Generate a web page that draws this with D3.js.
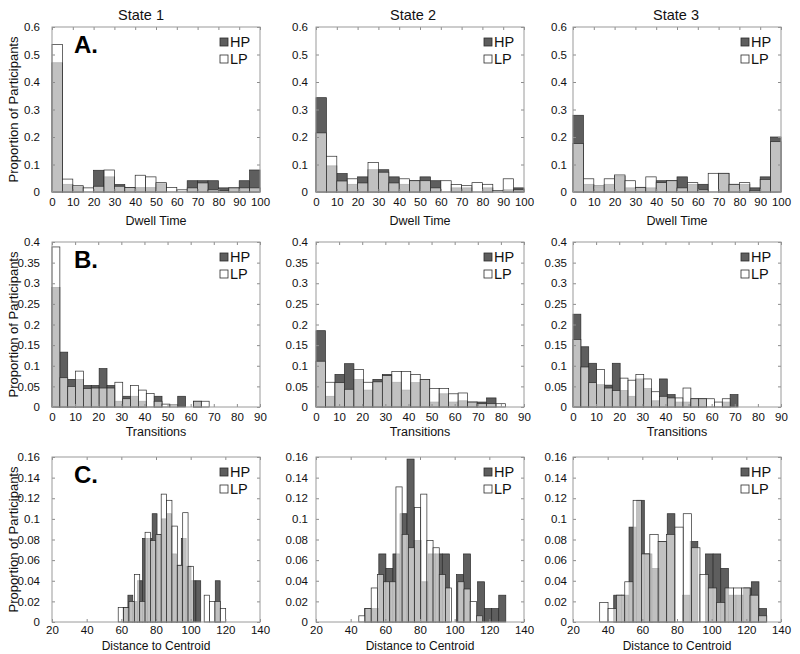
<!doctype html>
<html lang="en">
<head>
<meta charset="utf-8">
<title>HP vs LP - dwell time, transitions, distance to centroid</title>
<script src="https://d3js.org/d3.v7.min.js"></script>
<style>
  body { margin: 0; background: #fff; }
  svg { font-family: "Liberation Sans", Arial, Helvetica, sans-serif; }
  .tick text { font-size: 11.5px; fill: #111; }
  .tick line { stroke: #8c8c8c; }
</style>
</head>
<body>
<div id="chart"></div>
<script>
// titles and labels
var states = ["State 1", "State 2", "State 3"];
var letters = ["A.", "B.", "C."];
var xLabels = ["Dwell Time", "Transitions", "Distance to Centroid"];
var yLabel = "Proportion of Participants";
var series = ["HP", "LP"];

// tick values for each row
var dwellXTicks = [0, 10, 20, 30, 40, 50, 60, 70, 80, 90, 100];
var dwellYTicks = [0, 0.1, 0.2, 0.3, 0.4, 0.5, 0.6];
var transXTicks = [0, 10, 20, 30, 40, 50, 60, 70, 80, 90];
var transYTicks = [0, 0.05, 0.1, 0.15, 0.2, 0.25, 0.3, 0.35, 0.4];
var distXTicks = [20, 40, 60, 80, 100, 120, 140];
var distYTicks = [0, 0.02, 0.04, 0.06, 0.08, 0.1, 0.12, 0.14, 0.16];

// bins as [first edge, bin width], one per state
var dwellHPBins = [[0, 5], [0, 5], [0, 5]];
var dwellLPBins = [[0, 5], [0, 5], [0, 5]];
var transHPBins = [[0, 3.4], [0, 4.1], [0, 3.4]];
var transLPBins = [[0, 3.4], [0, 4.1], [0, 3.4]];
var distHPBins = [[61, 2.8], [48.1, 4.07], [43.5, 4.41]];
var distLPBins = [[58.2, 3.1], [44.7, 3.57], [35.4, 4.82]];

// proportions per bin
var dwellHP = [
  [0.47, 0.028, 0.019, 0, 0.079, 0.055, 0.027, 0.016, 0.016, 0.016, 0.03, 0, 0, 0.041, 0.041, 0.041, 0.015, 0.015, 0.041, 0.08],
  [0.343, 0.095, 0.067, 0.028, 0.055, 0.081, 0.081, 0.055, 0.028, 0.041, 0.055, 0.041, 0, 0.015, 0.015, 0, 0.015, 0, 0.008, 0.015],
  [0.279, 0.028, 0.017, 0.028, 0.058, 0.015, 0.017, 0.015, 0.041, 0.041, 0.055, 0.028, 0.028, 0, 0.068, 0.028, 0.028, 0.015, 0.055, 0.2]
];
var dwellLP = [
  [0.536, 0.047, 0.023, 0.015, 0.021, 0.08, 0.021, 0.016, 0.061, 0.055, 0.034, 0.016, 0.008, 0.015, 0.033, 0.008, 0.005, 0.015, 0.015, 0.015],
  [0.215, 0.13, 0.04, 0.048, 0.033, 0.107, 0.072, 0.033, 0.048, 0.041, 0.041, 0.015, 0.041, 0.027, 0.023, 0.034, 0.028, 0.005, 0.048, 0.008],
  [0.176, 0.048, 0.022, 0.048, 0.062, 0.041, 0.017, 0.055, 0.034, 0.041, 0.015, 0.034, 0.008, 0.068, 0.068, 0.028, 0.034, 0.006, 0.046, 0.183]
];
var transHP = [
  [0.29, 0.133, 0.067, 0.067, 0.052, 0.052, 0.093, 0.052, 0.014, 0.026, 0.026, 0.014, 0, 0.026, 0, 0, 0.026, 0, 0.014, 0],
  [0.185, 0.026, 0.079, 0.105, 0.067, 0.041, 0.067, 0.079, 0.06, 0.041, 0.059, 0.067, 0.012, 0.032, 0.012, 0.015, 0.012, 0.012, 0.022, 0],
  [0.225, 0.146, 0.106, 0.054, 0.053, 0.106, 0.04, 0.026, 0.068, 0.045, 0.015, 0.068, 0.03, 0.012, 0.012, 0.02, 0.02, 0, 0, 0.012, 0.03]
];
var transLP = [
  [0.388, 0.071, 0.05, 0.087, 0.045, 0.046, 0.046, 0.046, 0.06, 0.02, 0.052, 0.041, 0.033, 0.014, 0.007, 0.005, 0, 0, 0.014, 0.014],
  [0.111, 0.06, 0.059, 0.043, 0.091, 0.06, 0.061, 0.076, 0.086, 0.086, 0.079, 0.067, 0.045, 0.045, 0.032, 0.034, 0.012, 0.008, 0.008, 0.008],
  [0.164, 0.097, 0.059, 0.091, 0.046, 0.04, 0.07, 0.065, 0.079, 0.068, 0.037, 0.026, 0.022, 0.022, 0.046, 0.02, 0.02, 0.02, 0.012, 0.02, 0]
];
var distHP = [
  [0.014, 0.026, 0.02, 0.04, 0.081, 0.081, 0.105, 0.085, 0.1, 0.105, 0.066, 0.055, 0.081, 0.054, 0.04, 0.04, 0, 0, 0, 0.04],
  [0.013, 0.013, 0.066, 0.052, 0.066, 0.105, 0.158, 0.079, 0.039, 0.066, 0.066, 0.066, 0, 0.046, 0.066, 0, 0.039, 0.013, 0.013, 0.026],
  [0.026, 0.026, 0.092, 0.118, 0.066, 0.052, 0.078, 0.105, 0, 0.026, 0.078, 0, 0.066, 0.066, 0.052, 0.026, 0.026, 0.033, 0.039, 0.013]
];
var distLP = [
  [0.014, 0.014, 0.02, 0.046, 0.02, 0.087, 0.079, 0.085, 0.124, 0.118, 0.093, 0.055, 0.106, 0.054, 0, 0, 0.026, 0.02, 0.02, 0.013],
  [0.006, 0.013, 0.033, 0.046, 0.039, 0.039, 0.131, 0.085, 0.072, 0.111, 0.124, 0.079, 0.072, 0.046, 0.033, 0, 0.039, 0.032, 0.02, 0.006],
  [0.019, 0.013, 0.026, 0.039, 0.118, 0.066, 0.085, 0.078, 0.085, 0.092, 0.105, 0.072, 0.046, 0.033, 0.019, 0.033, 0.033, 0.033, 0.026, 0.006]
];

var rows = [
  {xTicks: dwellXTicks, yTicks: dwellYTicks, hp: dwellHP, lp: dwellLP, hpBins: dwellHPBins, lpBins: dwellLPBins},
  {xTicks: transXTicks, yTicks: transYTicks, hp: transHP, lp: transLP, hpBins: transHPBins, lpBins: transLPBins},
  {xTicks: distXTicks, yTicks: distYTicks, hp: distHP, lp: distLP, hpBins: distHPBins, lpBins: distLPBins}
];

// layout
var colX = [52, 316, 573];
var rowY = [27, 242, 457];
var plotW = 208, plotH = 165;
var titleX = [141, 413, 676];
var yPad = [12, 8, 6];        // gap between box and y tick labels, per column
var xPad = [6, 6, 4];         // gap between box and x tick labels, per row
var xTitleGap = [33, 29, 28];

var hpFill = "#5e5e5e";
var barStroke = "#2b2b2b";
var boxStroke = "#9a9a9a";

var svg = d3.select("#chart").append("svg")
  .attr("width", 800)
  .attr("height", 654);

var fmt = d3.format("~g");

// turn a value list into bars with edges
function toBins(values, bin) {
  return values.map(function(v, i) {
    return {x0: bin[0] + i * bin[1], x1: bin[0] + (i + 1) * bin[1], v: v};
  }).filter(function(d) { return d.v > 0; });
}

function drawPanel(r, c) {
  var row = rows[r];
  var g = svg.append("g")
    .attr("transform", "translate(" + colX[c] + "," + rowY[r] + ")");

  var x = d3.scaleLinear().domain(d3.extent(row.xTicks)).range([0, plotW]);
  var y = d3.scaleLinear().domain(d3.extent(row.yTicks)).range([plotH, 0]);

  // HP bars first, LP on top half transparent so overlap shows light grey
  g.append("g").selectAll("rect")
    .data(toBins(row.hp[c], row.hpBins[c]))
    .enter().append("rect")
    .attr("x", function(d) { return x(d.x0); })
    .attr("width", function(d) { return x(d.x1) - x(d.x0); })
    .attr("y", function(d) { return y(d.v); })
    .attr("height", function(d) { return y(0) - y(d.v); })
    .attr("fill", hpFill)
    .attr("stroke", barStroke)
    .attr("stroke-width", 0.7);

  g.append("g").selectAll("rect")
    .data(toBins(row.lp[c], row.lpBins[c]))
    .enter().append("rect")
    .attr("x", function(d) { return x(d.x0); })
    .attr("width", function(d) { return x(d.x1) - x(d.x0); })
    .attr("y", function(d) { return y(d.v); })
    .attr("height", function(d) { return y(0) - y(d.v); })
    .attr("fill", "#fff")
    .attr("fill-opacity", 0.62)
    .attr("stroke", barStroke)
    .attr("stroke-width", 0.7);

  // axes, ticks point inwards on all four sides
  g.append("g")
    .attr("transform", "translate(0," + plotH + ")")
    .call(d3.axisBottom(x).tickValues(row.xTicks).tickFormat(fmt).tickSizeInner(-3).tickSizeOuter(0).tickPadding(xPad[r]))
    .call(function(a) { a.select(".domain").remove(); });
  g.append("g")
    .call(d3.axisLeft(y).tickValues(row.yTicks).tickFormat(fmt).tickSizeInner(-3).tickSizeOuter(0).tickPadding(yPad[c]))
    .call(function(a) { a.select(".domain").remove(); });
  g.append("g")
    .call(d3.axisTop(x).tickValues(row.xTicks).tickFormat("").tickSizeInner(-3).tickSizeOuter(0))
    .call(function(a) { a.select(".domain").remove(); });
  g.append("g")
    .attr("transform", "translate(" + plotW + ",0)")
    .call(d3.axisRight(y).tickValues(row.yTicks).tickFormat("").tickSizeInner(-3).tickSizeOuter(0))
    .call(function(a) { a.select(".domain").remove(); });

  g.append("rect")
    .attr("width", plotW)
    .attr("height", plotH)
    .attr("fill", "none")
    .attr("stroke", boxStroke)
    .attr("stroke-width", 1);

  // legend
  var leg = g.append("g").selectAll("g")
    .data(series)
    .enter().append("g")
    .attr("transform", function(d, i) { return "translate(" + (plotW - 40) + "," + (11 + i * 17) + ")"; });
  leg.append("rect")
    .attr("width", 8)
    .attr("height", 8)
    .attr("fill", function(d) { return d === "HP" ? hpFill : "#ffffff"; })
    .attr("stroke", barStroke)
    .attr("stroke-width", 0.8);
  leg.append("text")
    .attr("x", 10)
    .attr("y", 8.5)
    .attr("font-size", "14.5px")
    .attr("fill", "#111")
    .text(function(d) { return d; });

  // x axis label
  svg.append("text")
    .attr("x", colX[c] + plotW / 2)
    .attr("y", rowY[r] + plotH + xTitleGap[r])
    .attr("text-anchor", "middle")
    .attr("font-size", r === 2 ? "12px" : "12.5px")
    .attr("fill", "#111")
    .text(xLabels[r]);
}

for (var r = 0; r < rows.length; r++) {
  for (var c = 0; c < states.length; c++) {
    drawPanel(r, c);
  }
  // panel letter
  svg.append("text")
    .attr("x", colX[0] + 22)
    .attr("y", rowY[r] + 26)
    .attr("font-size", "24px")
    .attr("font-weight", "bold")
    .attr("fill", "#000")
    .text(letters[r]);
  // y axis label
  svg.append("text")
    .attr("transform", "translate(18," + (rowY[r] + plotH / 2) + ") rotate(-90)")
    .attr("text-anchor", "middle")
    .attr("font-size", "13px")
    .attr("fill", "#111")
    .text(yLabel);
}

// column titles
svg.selectAll(".state")
  .data(states)
  .enter().append("text")
  .attr("class", "state")
  .attr("x", function(d, i) { return titleX[i]; })
  .attr("y", 20)
  .attr("text-anchor", "middle")
  .attr("font-size", "14.5px")
  .attr("fill", "#111")
  .text(function(d) { return d; });
</script>
</body>
</html>
